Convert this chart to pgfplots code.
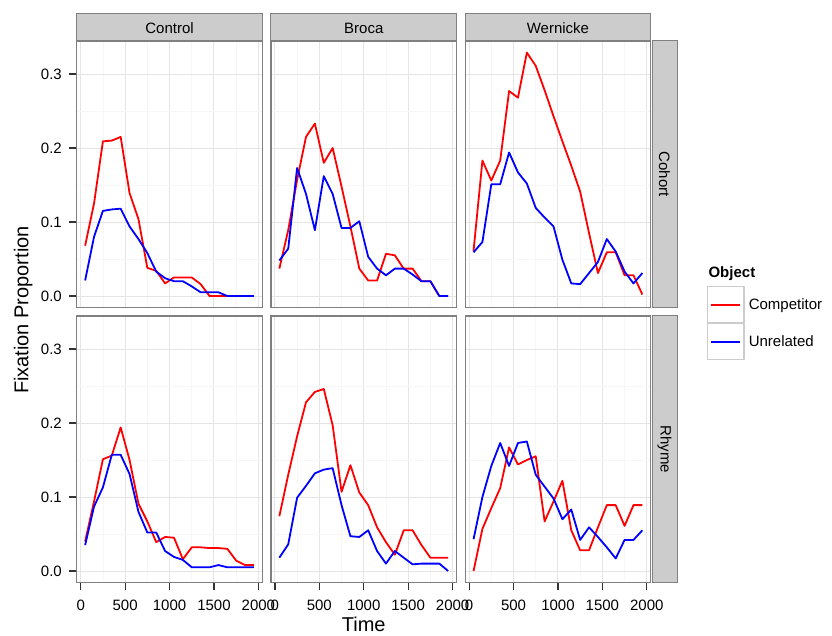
\documentclass[border=0pt]{standalone}
\usepackage{fontspec}
\setmainfont{Liberation Sans}
\usepackage{pgfplots}
\pgfplotsset{compat=1.18}
\usepackage{pgfplotstable}

% Control / Cohort
\pgfplotstableread{
t comp unrel
50 0.068 0.021
150 0.125 0.080
250 0.209 0.115
350 0.210 0.117
450 0.215 0.118
550 0.139 0.094
650 0.104 0.077
750 0.038 0.058
850 0.034 0.033
950 0.017 0.024
1050 0.025 0.020
1150 0.025 0.020
1250 0.025 0.013
1350 0.016 0.005
1450 0.000 0.005
1550 0.000 0.005
1650 0.000 0.000
1750 0.000 0.000
1850 0.000 0.000
1950 0.000 0.000
}\tabCC
% Broca / Cohort
\pgfplotstableread{
t comp unrel
50 0.037 0.048
150 0.089 0.064
250 0.157 0.173
350 0.215 0.138
450 0.233 0.089
550 0.180 0.162
650 0.200 0.138
750 0.148 0.092
850 0.094 0.092
950 0.037 0.101
1050 0.021 0.053
1150 0.021 0.037
1250 0.057 0.028
1350 0.055 0.037
1450 0.037 0.037
1550 0.037 0.029
1650 0.020 0.020
1750 0.020 0.020
1850 0.000 0.000
1950 0.000 0.000
}\tabBC
% Wernicke / Cohort
\pgfplotstableread{
t comp unrel
50 0.061 0.059
150 0.183 0.073
250 0.156 0.151
350 0.183 0.151
450 0.277 0.194
550 0.268 0.167
650 0.329 0.152
750 0.311 0.119
850 0.278 0.106
950 0.243 0.094
1050 0.209 0.049
1150 0.176 0.017
1250 0.141 0.016
1350 0.085 0.031
1450 0.031 0.046
1550 0.059 0.077
1650 0.059 0.060
1750 0.028 0.033
1850 0.028 0.017
1950 0.002 0.031
}\tabWC
% Control / Rhyme
\pgfplotstableread{
t comp unrel
50 0.040 0.035
150 0.094 0.087
250 0.151 0.113
350 0.156 0.157
450 0.194 0.157
550 0.150 0.131
650 0.091 0.080
750 0.067 0.052
850 0.039 0.052
950 0.046 0.027
1050 0.045 0.019
1150 0.016 0.015
1250 0.032 0.005
1350 0.032 0.005
1450 0.031 0.005
1550 0.031 0.008
1650 0.030 0.005
1750 0.014 0.005
1850 0.008 0.005
1950 0.008 0.005
}\tabCR
% Broca / Rhyme
\pgfplotstableread{
t comp unrel
50 0.074 0.018
150 0.130 0.036
250 0.182 0.099
350 0.228 0.115
450 0.242 0.132
550 0.246 0.137
650 0.197 0.139
750 0.107 0.089
850 0.143 0.047
950 0.106 0.046
1050 0.089 0.055
1150 0.059 0.027
1250 0.039 0.010
1350 0.022 0.027
1450 0.055 0.018
1550 0.055 0.009
1650 0.035 0.010
1750 0.018 0.010
1850 0.018 0.010
1950 0.018 0.000
}\tabBR
% Wernicke / Rhyme
\pgfplotstableread{
t comp unrel
50 0.000 0.043
150 0.057 0.100
250 0.085 0.142
350 0.112 0.173
450 0.167 0.142
550 0.144 0.173
650 0.150 0.175
750 0.155 0.130
850 0.067 0.114
950 0.094 0.098
1050 0.122 0.070
1150 0.055 0.083
1250 0.028 0.042
1350 0.028 0.059
1450 0.059 0.046
1550 0.089 0.032
1650 0.089 0.017
1750 0.061 0.042
1850 0.089 0.042
1950 0.089 0.055
}\tabWR

\newcommand{\fs}{\fontsize{11.25}{13.5}\selectfont}
\newcommand{\fl}{\fontsize{15}{18}\selectfont}

\pgfplotsset{
  panel/.style={
    scale only axis, width=139.275pt, height=199.875pt,
    anchor=north west,
    xmin=-45, xmax=2045, ymin=-0.01554, ymax=0.3446,
    xtick={0,500,1000,1500,2000}, ytick={0,0.1,0.2,0.3},
    minor xtick={250,750,1250,1750}, minor ytick={0.05,0.15,0.25},
    grid=both,
    major grid style={black!10, line width=0.75pt},
    minor grid style={black!3, line width=0.6pt},
    axis line style={black!50, line width=0.9pt},
    tick align=outside, major tick length=5.6pt, minor tick length=0pt,
    tick pos=left,
    tick style={black!80, line width=0.9pt},
    tick label style={font=\fs, inner sep=0pt},
    yticklabel style={xshift=-5.4pt},
    xticklabel style={yshift=-7.2pt},
    /pgf/number format/assume math mode=true,
  },
  bottomrow/.style={xticklabels={0,500,1000,1500,2000}},
  toprow/.style={xticklabels={}, xtick style={draw=none}},
  leftcol/.style={yticklabels={0.0,0.1,0.2,0.3}},
  othercol/.style={yticklabels={}, ytick style={draw=none}},
  comp/.style={red, line width=1.35pt, line join=round},
  unrel/.style={blue, line width=1.35pt, line join=round},
  keyimg/.style={legend image code/.code={
    \draw[black!20, line width=0.9pt, fill=white] (0pt,-13.5pt) rectangle (27.45pt,13.5pt);
    \draw[##1] (3pt,0pt) -- (24.75pt,0pt);}},
}

\begin{document}
\begin{tikzpicture}
\begin{scope}[x=0.75pt, y=-0.75pt]
  \path (0,0) rectangle (832,633);
\end{scope}

% top row: Cohort
\begin{axis}[panel, toprow, leftcol, at={(57.525pt,-30.75pt)}]
  \addplot[comp] table[x=t, y=comp] {\tabCC};
  \addplot[unrel] table[x=t, y=unrel] {\tabCC};
\end{axis}
\begin{axis}[panel, toprow, othercol, at={(203.175pt,-30.75pt)}]
  \addplot[comp] table[x=t, y=comp] {\tabBC};
  \addplot[unrel] table[x=t, y=unrel] {\tabBC};
\end{axis}
\begin{axis}[panel, toprow, othercol, at={(348.825pt,-30.75pt)},
  legend style={at={(1.30102,0.08068)}, anchor=north west, draw=none, fill=none,
    inner sep=0pt, outer sep=0pt, row sep=0pt, column sep=3.2pt,
    nodes={inner sep=0pt, font=\fs}},
  legend cell align=left, keyimg]
  \addplot[comp] table[x=t, y=comp] {\tabWC};
  \addplot[unrel] table[x=t, y=unrel] {\tabWC};
  \legend{Competitor, Unrelated}
\end{axis}

% bottom row: Rhyme
\begin{axis}[panel, bottomrow, leftcol, at={(57.525pt,-237pt)}]
  \addplot[comp] table[x=t, y=comp] {\tabCR};
  \addplot[unrel] table[x=t, y=unrel] {\tabCR};
\end{axis}
\begin{axis}[panel, bottomrow, othercol, at={(203.175pt,-237pt)}]
  \addplot[comp] table[x=t, y=comp] {\tabBR};
  \addplot[unrel] table[x=t, y=unrel] {\tabBR};
\end{axis}
\begin{axis}[panel, bottomrow, othercol, at={(348.825pt,-237pt)}]
  \addplot[comp] table[x=t, y=comp] {\tabWR};
  \addplot[unrel] table[x=t, y=unrel] {\tabWR};
\end{axis}

\begin{scope}[x=0.75pt, y=-0.75pt]
  % top strips
  \foreach \xx/\lab in {76.7/Control, 270.9/Broca, 465.1/Wernicke} {
    \draw[black!50, fill=black!20, line width=0.75pt] (\xx,14) rectangle ({\xx+185.7},40.3);
    \node[font=\fs, anchor=base] at ({\xx+92.85},33.3) {\lab};
  }
  % right strips
  \draw[black!50, fill=black!20, line width=0.75pt] (652,41) rectangle (677,307.5);
  \draw[black!50, fill=black!20, line width=0.75pt] (652,316) rectangle (677,582.5);
  \node[font=\fs, rotate=-90] at (664.5,174.25) {Cohort};
  \node[font=\fs, rotate=-90] at (664.5,449.25) {Rhyme};
  % axis titles
  \node[font=\fl, anchor=base] at (363.75,631.3) {Time};
  \node[font=\fl, rotate=90, anchor=base] at (28.3,310) {Fixation Proportion};
  % legend title
  \node[font=\fs\bfseries, anchor=base west, inner sep=0pt] at (708.3,277.3) {Object};
\end{scope}
\end{tikzpicture}
\end{document}
